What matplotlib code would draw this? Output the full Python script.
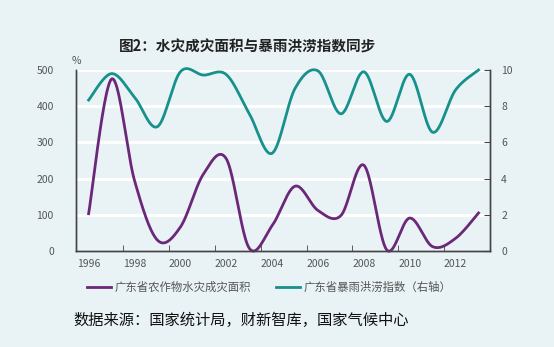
import numpy as np
import matplotlib
matplotlib.use("Agg")
import matplotlib.pyplot as plt

plt.rcParams['font.family'] = ['Noto Sans CJK SC', 'DejaVu Sans']

years = [1996, 1997, 1998, 1999, 2000, 2001, 2002, 2003, 2004, 2005, 2006, 2007, 2008, 2009, 2010, 2011, 2012, 2013]
area = [103, 475, 195, 30, 66, 212, 255, 8, 70, 179, 112, 98, 237, 3, 91, 12, 35, 105]
index = [8.34, 9.8, 8.5, 6.87, 9.9, 9.72, 9.75, 7.6, 5.4, 8.98, 9.95, 7.58, 9.9, 7.16, 9.76, 6.56, 8.9, 10.0]
xtick_labels = ['1996', '1998', '2000', '2002', '2004', '2006', '2008', '2010', '2012']
title = '图2：水灾成灾面积与暴雨洪涝指数同步'
label_area = '广东省农作物水灾成灾面积'
label_index = '广东省暴雨洪涝指数（右轴）'
source = '数据来源：国家统计局，财新智库，国家气候中心'

BG = '#E9F2F5'
PURPLE = '#6B2878'
TEAL = '#16918B'
TXT = '#555555'


def smooth(x, y, n=40):
    x = np.asarray(x, float)
    y = np.asarray(y, float)
    xs, ys = [], []
    N = len(x)
    for i in range(N - 1):
        p0 = np.array([x[max(i - 1, 0)], y[max(i - 1, 0)]])
        p1 = np.array([x[i], y[i]])
        p2 = np.array([x[i + 1], y[i + 1]])
        p3 = np.array([x[min(i + 2, N - 1)], y[min(i + 2, N - 1)]])
        c1 = p1 + (p2 - p0) / 6.0
        c2 = p2 - (p3 - p1) / 6.0
        t = np.linspace(0, 1, n)[:, None]
        b = ((1 - t) ** 3) * p1 + 3 * ((1 - t) ** 2) * t * c1 + 3 * (1 - t) * t ** 2 * c2 + t ** 3 * p2
        if i > 0:
            b = b[1:]
        xs.append(b[:, 0])
        ys.append(b[:, 1])
    return np.concatenate(xs), np.concatenate(ys)


fig = plt.figure(figsize=(5.54, 3.47), dpi=100, facecolor=BG)
ax = fig.add_axes([76 / 554, 1 - 251 / 347, (490 - 76) / 554, (251 - 70) / 347])
ax.set_facecolor(BG)
ax2 = ax.twinx()

ax.set_xlim(1995.45, 2013.5)
ax.set_ylim(0, 500)
ax2.set_ylim(0, 10)

for v in range(100, 501, 100):
    ax.axhline(v, color='white', lw=2.2, zorder=0)

sx, sy = smooth(years, area)
l1, = ax.plot(sx, sy, color=PURPLE, lw=2, zorder=3, label=label_area, clip_on=False)
sx2, sy2 = smooth(years, index)
l2, = ax2.plot(sx2, sy2, color=TEAL, lw=2, zorder=3, label=label_index, clip_on=False)

ax.set_yticks(range(0, 501, 100))
ax2.set_yticks(range(0, 11, 2))
ax.set_xticks([int(s) for s in xtick_labels])
ax.set_xticklabels(xtick_labels)
ax.set_xticks(np.arange(1997.5, 2013, 2), minor=True)

for a in (ax, ax2):
    for s in a.spines.values():
        s.set_color('#444444')
        s.set_linewidth(1.0)
    a.spines['top'].set_visible(False)
ax.tick_params(axis='x', which='major', length=0, pad=6, labelsize=7.5, labelcolor=TXT)
ax.tick_params(axis='x', which='minor', length=4, direction='in', color='#444444')
ax.tick_params(axis='y', length=0, pad=16, labelsize=7.5, labelcolor=TXT)
ax2.tick_params(axis='y', length=4, direction='in', pad=8, labelsize=7.5, labelcolor=TXT, color='#444444')

ax.text(1995.45, 510, '%', fontsize=7.5, color=TXT, ha='center', va='bottom')

fig.text(248 / 554, 1 - 47 / 347, title, ha='center', va='center', fontsize=10.5, color='#222222', fontweight='bold')

fig.legend(handles=[l1, l2], loc='center left', bbox_to_anchor=(87 / 554, 1 - 287 / 347), ncol=2,
           frameon=False, fontsize=8.2, handlelength=2.1, handletextpad=0.3, columnspacing=2.2,
           borderpad=0, borderaxespad=0, labelcolor=TXT)

fig.text(73 / 554, 1 - 320 / 347, source, ha='left', va='center', fontsize=11, color='#111111')

fig.savefig('out.png', dpi=100, facecolor=BG)
